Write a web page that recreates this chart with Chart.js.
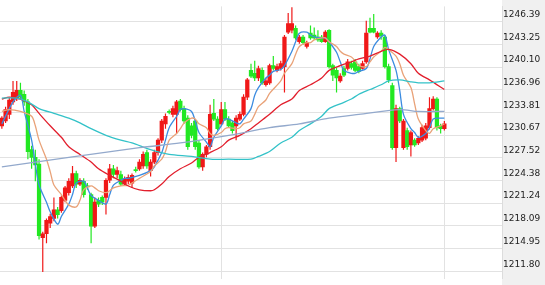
<!DOCTYPE html>
<html>
<head>
<meta charset="utf-8">
<script src="https://cdn.jsdelivr.net/npm/chart.js@4"></script>
<style>
  html, body { margin: 0; padding: 0; background: #fff; }
</style>
</head>
<body>
<canvas id="kline" width="545" height="285"></canvas>
<script>
// K-line data, one entry per candle (oldest first)
const openPrices = [
  1231.96,1232.62,1233.55,1235.27,1235.67,1236.86,1236.33,1235.27,1228.65,1227.59,
  1226.67,1216.47,1217.00,1218.46,1219.12,1220.31,1220.18,1221.63,1222.69,1223.62,
  1225.34,1223.88,1224.28,1223.62,1222.43,1218.06,1221.63,1222.03,1222.03,1224.41,
  1226.00,1225.21,1225.21,1223.88,1224.28,1224.02,1225.87,1226.00,1226.40,1228.25,
  1225.74,1226.93,1228.25,1229.97,1232.23,1233.95,1233.55,1233.55,1235.40,1234.34,
  1233.02,1231.96,1232.62,1229.58,1226.27,1227.99,1229.05,1233.68,1232.89,1232.23,
  1234.21,1232.89,1232.36,1231.96,1232.89,1233.55,1235.93,1239.64,1239.24,1238.58,
  1239.64,1237.65,1237.92,1240.30,1239.64,1239.90,1240.17,1244.94,1245.20,1245.46,
  1243.61,1244.27,1242.95,1244.80,1244.54,1244.27,1244.27,1243.61,1245.20,1240.30,
  1239.64,1238.18,1239.90,1239.90,1240.57,1240.83,1240.17,1239.90,1240.83,1245.46,
  1245.46,1244.27,1244.80,1244.27,1240.17,1237.52,1228.92,1234.34,1228.92,1231.30,
  1229.31,1229.97,1229.58,1229.97,1230.24,1231.70,1234.34,1235.67,1231.96,1231.56
];
const highPrices = [
  1233.28,1234.61,1235.93,1238.18,1238.18,1237.92,1236.86,1235.67,1229.18,1228.65,
  1227.33,1217.26,1219.12,1219.78,1222.03,1220.71,1222.30,1223.62,1224.68,1226.40,
  1225.74,1224.68,1224.68,1224.02,1222.69,1222.03,1222.03,1222.30,1224.68,1226.67,
  1226.53,1226.27,1225.74,1224.94,1225.21,1225.34,1226.27,1227.33,1228.39,1228.65,
  1227.33,1228.65,1230.24,1232.89,1233.68,1234.21,1234.74,1235.54,1235.67,1234.74,
  1233.42,1232.36,1232.89,1229.97,1228.25,1229.31,1234.87,1235.67,1233.28,1235.27,
  1235.27,1233.28,1232.62,1233.42,1233.95,1236.33,1238.58,1240.57,1240.96,1240.30,
  1240.04,1238.58,1240.57,1241.62,1240.57,1240.96,1244.54,1247.58,1248.40,1245.86,
  1244.54,1244.54,1243.74,1245.86,1245.60,1245.20,1244.54,1245.20,1245.33,1240.57,
  1240.04,1239.24,1240.30,1241.23,1240.96,1241.23,1240.57,1240.96,1246.52,1246.92,
  1247.45,1245.07,1245.20,1244.54,1240.57,1237.92,1234.87,1234.61,1232.89,1231.70,
  1231.30,1230.24,1230.50,1232.09,1232.36,1235.93,1236.07,1235.93,1232.23,1232.62
];
const lowPrices = [
  1231.56,1232.36,1232.89,1234.87,1235.40,1235.67,1234.74,1227.33,1226.00,1224.28,
  1216.20,1211.70,1215.68,1217.79,1218.72,1219.12,1219.91,1221.37,1222.30,1223.35,
  1223.35,1223.62,1222.03,1223.09,1215.68,1217.79,1220.71,1220.97,1219.65,1224.02,
  1224.68,1224.68,1223.62,1223.62,1223.88,1223.35,1225.47,1225.74,1226.00,1226.00,
  1224.94,1226.67,1227.86,1229.58,1231.56,1233.55,1233.15,1230.90,1233.95,1232.23,
  1228.65,1230.24,1228.65,1226.00,1225.74,1227.59,1228.65,1232.62,1231.30,1231.96,
  1232.62,1231.70,1230.90,1229.97,1232.62,1233.28,1235.54,1238.58,1238.18,1238.18,
  1237.65,1237.39,1237.65,1239.64,1239.38,1239.64,1236.59,1244.67,1244.80,1243.88,
  1243.35,1243.21,1242.68,1243.88,1243.88,1243.61,1243.48,1243.48,1239.90,1238.18,
  1236.59,1237.92,1238.71,1239.64,1239.77,1239.38,1239.24,1239.77,1240.57,1244.80,
  1244.80,1244.01,1243.88,1239.90,1237.92,1228.65,1226.93,1232.36,1228.65,1228.65,
  1227.72,1229.05,1229.31,1229.71,1229.97,1231.43,1234.08,1231.30,1230.90,1231.30
];
const closePrices = [
  1233.02,1234.21,1235.54,1236.59,1236.86,1235.93,1235.27,1228.39,1227.59,1226.53,
  1216.73,1217.00,1218.85,1219.38,1220.31,1219.65,1222.03,1223.35,1224.28,1225.34,
  1223.88,1224.41,1222.43,1223.49,1218.06,1221.37,1221.10,1221.37,1224.41,1226.00,
  1225.21,1225.74,1223.88,1224.55,1224.81,1225.08,1225.74,1226.93,1227.99,1226.40,
  1226.93,1228.25,1229.97,1232.62,1233.28,1233.81,1234.34,1235.27,1234.21,1232.62,
  1229.05,1230.64,1229.05,1226.27,1227.99,1229.05,1233.55,1232.89,1231.56,1234.21,
  1232.89,1231.96,1231.30,1233.02,1233.55,1235.93,1238.32,1238.85,1238.58,1239.90,
  1237.92,1238.18,1240.30,1239.90,1240.17,1240.57,1244.27,1246.13,1246.13,1244.14,
  1244.27,1243.48,1243.48,1244.14,1244.14,1243.88,1243.61,1244.94,1240.17,1238.98,
  1238.58,1238.85,1238.98,1240.83,1240.04,1239.64,1239.51,1240.57,1244.80,1244.94,
  1244.94,1244.80,1244.41,1240.17,1238.32,1228.92,1234.34,1232.62,1232.62,1229.05,
  1231.03,1229.31,1230.24,1231.70,1231.96,1234.34,1235.67,1231.70,1231.56,1232.23
];

// moving averages: [candle index, value]
const ma5Points = [
  [0,1232.23],[3,1235.27],[5,1236.20],[6,1233.95],[8,1229.97],[9,1226.67],[10,1223.75],[12,1221.37],
  [13,1220.04],[15,1218.32],[16,1219.38],[18,1221.10],[19,1222.43],[20,1224.02],[22,1224.28],[23,1223.35],
  [24,1222.30],[26,1221.63],[28,1221.10],[29,1222.43],[30,1223.75],[32,1224.41],[33,1224.68],[34,1224.68],
  [37,1225.08],[40,1225.74],[41,1226.27],[43,1228.25],[44,1229.97],[45,1231.70],[47,1233.28],[48,1234.21],
  [49,1234.34],[51,1233.95],[52,1232.62],[53,1231.03],[55,1229.71],[56,1229.05],[57,1230.37],[59,1231.96],
  [60,1232.89],[61,1232.89],[63,1232.36],[64,1232.23],[65,1232.89],[67,1234.34],[68,1236.20],[69,1237.26],
  [71,1238.58],[72,1238.98],[73,1239.51],[75,1239.77],[76,1240.30],[78,1242.29],[79,1243.61],[80,1244.80],
  [82,1244.94],[83,1244.54],[84,1244.27],[86,1244.14],[87,1244.14],[88,1243.61],[90,1242.15],[91,1240.83],
  [92,1239.64],[94,1239.24],[95,1239.24],[96,1239.51],[98,1239.90],[99,1241.23],[100,1242.95],[102,1244.27],
  [103,1244.54],[104,1242.55],[106,1239.64],[107,1236.86],[108,1233.55],[110,1231.56],[111,1231.03],[112,1230.37],
  [114,1230.90],[115,1231.70],[116,1232.89],[118,1233.02],[119,1233.02]
];
const ma10Points = [
  [0,1233.95],[2,1234.21],[5,1233.95],[8,1233.28],[9,1231.96],[10,1229.97],[12,1227.33],[13,1225.61],
  [14,1223.75],[16,1222.43],[17,1221.63],[18,1220.97],[20,1220.71],[21,1221.63],[22,1223.09],[24,1223.62],
  [25,1223.35],[26,1222.96],[28,1222.69],[29,1222.96],[30,1223.35],[32,1223.62],[34,1223.75],[37,1224.68],
  [40,1225.61],[41,1226.40],[43,1227.33],[44,1228.39],[45,1229.97],[47,1230.90],[48,1231.56],[49,1232.36],
  [51,1233.02],[52,1232.89],[53,1232.23],[55,1231.70],[56,1230.90],[57,1230.64],[59,1231.03],[60,1231.56],
  [61,1231.70],[63,1231.56],[64,1231.70],[65,1232.23],[67,1232.62],[68,1233.55],[69,1234.61],[71,1235.54],
  [72,1236.46],[75,1238.18],[76,1239.24],[78,1240.57],[79,1241.89],[80,1242.95],[82,1243.48],[83,1243.48],
  [84,1243.88],[86,1244.14],[87,1244.14],[88,1243.61],[90,1242.95],[91,1242.29],[92,1241.89],[94,1241.49],
  [95,1240.96],[96,1240.30],[98,1240.17],[99,1240.83],[100,1241.49],[102,1242.29],[103,1242.82],[104,1242.55],
  [106,1241.62],[107,1240.57],[108,1238.98],[110,1237.26],[111,1235.01],[112,1232.89],[114,1231.30],[115,1230.90],
  [116,1231.56],[118,1231.96],[119,1232.23]
];
const ma20Points = [
  [0,1235.67],[2,1235.93],[5,1235.67],[8,1234.87],[10,1233.68],[13,1231.96],[16,1230.37],[18,1229.05],
  [21,1227.99],[24,1226.93],[26,1226.00],[29,1225.08],[32,1224.28],[34,1223.62],[37,1223.09],[40,1222.96],
  [41,1223.09],[43,1223.88],[45,1224.94],[48,1226.00],[51,1226.80],[53,1227.59],[56,1228.25],[59,1229.05],
  [61,1229.97],[64,1230.64],[67,1231.56],[69,1232.36],[72,1233.55],[75,1234.87],[78,1235.67],[80,1236.86],
  [83,1237.65],[86,1238.58],[88,1239.64],[91,1240.30],[94,1240.83],[96,1241.23],[99,1241.62],[102,1242.29],
  [104,1242.55],[107,1241.89],[110,1240.57],[112,1239.24],[115,1238.32],[119,1236.99]
];
const ma60Points = [
  [0,1235.80],[4,1235.80],[7,1235.27],[10,1234.34],[14,1233.68],[18,1233.02],[21,1232.36],[24,1231.56],
  [28,1230.64],[32,1229.97],[35,1229.58],[40,1228.65],[45,1227.99],[51,1227.72],[56,1227.33],[61,1227.33],
  [67,1227.33],[69,1227.72],[72,1228.39],[75,1229.58],[78,1230.37],[80,1231.30],[83,1232.23],[86,1233.28],
  [88,1234.34],[91,1235.01],[94,1235.67],[96,1236.33],[99,1236.99],[102,1237.65],[104,1238.18],[107,1238.32],
  [110,1238.05],[112,1237.92],[115,1237.92],[119,1238.18]
];
const ma120Points = [
  [0,1226.27],[37,1228.92],[48,1229.58],[61,1230.64],[72,1231.70],[80,1232.23],[88,1233.02],[96,1233.55],
  [107,1234.21],[112,1233.95],[119,1233.95]
];

const yTickValues = [1246.39,1243.25,1240.10,1236.96,1233.81,1230.67,1227.52,1224.38,1221.24,1218.09,1214.95,1211.80];
const slotCount = 135;       // candle slots across the plot, incl. empty ones on the right
const markedSlots = [59, 119]; // vertical grid lines

const UP = '#f01818';
const DOWN = '#22e822';

const slotLabels = Array.from({ length: slotCount }, (_, i) => String(i));

function toSeries(points) {
    const arr = new Array(slotCount).fill(null);
    points.forEach(([i, v]) => { arr[i] = v; });
    return arr;
}

const candleColors = closePrices.map((c, i) => (c >= openPrices[i] ? UP : DOWN));

function maLine(points, color) {
    return {
        type: 'line',
        data: toSeries(points),
        borderColor: color,
        borderWidth: 1.3,
        pointRadius: 0,
        tension: 0.3,
        spanGaps: true,
        order: 1
    };
}

// light grey panel behind the price axis
const axisPanel = {
    id: 'axisPanel',
    beforeDraw(chart) {
        const s = chart.scales.y;
        const c = chart.ctx;
        c.save();
        c.fillStyle = '#f0f0f0';
        c.fillRect(s.left, 0, s.right - s.left, chart.height);
        c.restore();
    }
};

new Chart(document.getElementById('kline').getContext('2d'), {
    type: 'bar',
    data: {
        labels: slotLabels,
        datasets: [
            maLine(ma120Points, '#93a9cc'),
            maLine(ma60Points, '#33c2c8'),
            maLine(ma20Points, '#e21f2d'),
            maLine(ma10Points, '#e9a278'),
            maLine(ma5Points, '#3c8ce0'),
            {
                // bodies
                data: openPrices.map((o, i) => [o, closePrices[i]]),
                backgroundColor: candleColors,
                barThickness: 3.6,
                minBarLength: 1,
                grouped: false,
                order: 2
            },
            {
                // wicks
                data: lowPrices.map((l, i) => [l, highPrices[i]]),
                backgroundColor: candleColors,
                barThickness: 1.2,
                inflateAmount: 0,
                grouped: false,
                order: 3
            }
        ]
    },
    options: {
        responsive: false,
        animation: false,
        events: [],
        layout: { padding: 0 },
        plugins: {
            legend: { display: false },
            tooltip: { enabled: false }
        },
        scales: {
            x: {
                offset: true,
                grid: {
                    offset: false,
                    drawTicks: false,
                    color: (ctx) => (markedSlots.includes(ctx.index) ? '#e2e2e2' : 'rgba(0,0,0,0)')
                },
                border: { display: false },
                ticks: { display: false, autoSkip: false },
                afterFit: (s) => { s.height = 0; }
            },
            y: {
                position: 'right',
                min: 1210.78,
                max: 1248.51,
                afterBuildTicks: (s) => { s.ticks = yTickValues.map(v => ({ value: v })); },
                afterFit: (s) => { s.width = 43; },
                grid: { color: '#e2e2e2', drawTicks: false },
                border: { display: true, color: '#dcdcdc' },
                ticks: {
                    padding: 1,
                    labelOffset: -7,
                    color: '#222',
                    font: { family: 'DejaVu Sans', size: 9 },
                    callback: (v) => Number(v).toFixed(2)
                }
            }
        }
    },
    plugins: [axisPanel]
});
</script>
</body>
</html>
